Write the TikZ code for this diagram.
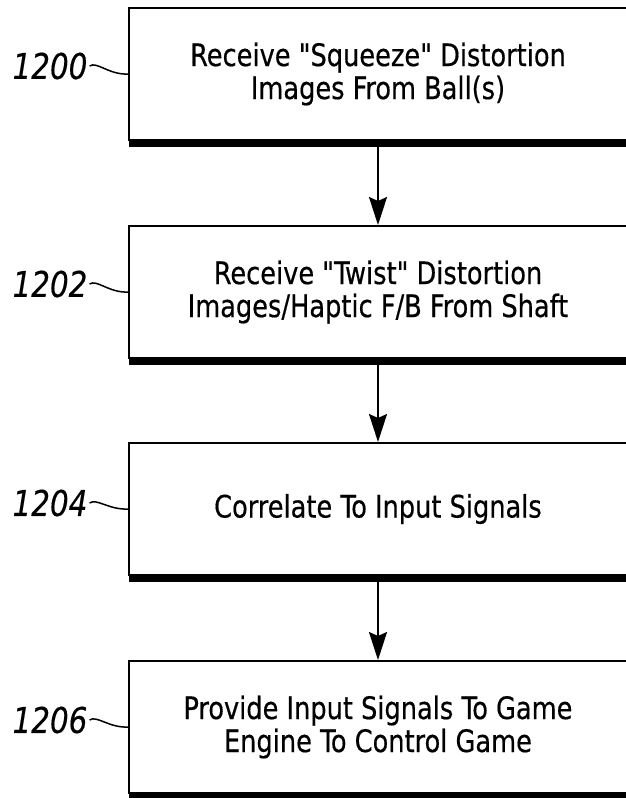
\documentclass[tikz,border=0pt]{standalone}
\usepackage{fontspec}
\setmainfont{DejaVuSansCondensed.ttf}[ItalicFont=DejaVuSansCondensed-Oblique.ttf, FakeStretch=0.92, FakeBold=0.4, Ligatures=TeXOff]
\usetikzlibrary{arrows.meta}
\begin{document}
\begin{tikzpicture}[x=1pt,y=1pt,
  stepbox/.style={draw, line width=2pt, minimum width=498pt, minimum height=132pt, inner sep=0pt, align=center, font=\fontsize{31}{33}\selectfont},
  reflabel/.style={font=\fontsize{35.5}{38}\selectfont\itshape, inner sep=2pt},
  flow/.style={line width=2pt, -{Stealth[length=28pt,width=18pt,inset=4pt]}},
  lead/.style={line width=1.5pt}]
\useasboundingbox (0,0) rectangle (625,-798);
\fill[white] (0,0) rectangle (625,-798);

\node[stepbox] (b1) at (378,-74) {Receive "Squeeze" Distortion\\Images From Ball(s)};
\node[stepbox] (b2) at (378,-292) {Receive "Twist" Distortion\\Images/Haptic F/B From Shaft};
\node[stepbox] (b3) at (378,-509) {Correlate To Input Signals};
\node[stepbox] (b4) at (378,-727) {Provide Input Signals To Game\\Engine To Control Game};

\foreach \b in {b1,b2,b3,b4}{
  \fill ([xshift=1pt]\b.south west) rectangle ([yshift=-6pt]\b.south east);
}

\draw[flow] ([yshift=-6pt]b1.south) -- (b2.north);
\draw[flow] ([yshift=-6pt]b2.south) -- (b3.north);
\draw[flow] ([yshift=-6pt]b3.south) -- (b4.north);

\node[reflabel] (l1) at (50,-66) {1200};
\node[reflabel] (l2) at (50,-284) {1202};
\node[reflabel] (l3) at (50,-503) {1204};
\node[reflabel] (l4) at (50,-720) {1206};

\draw[lead] (l1.east) .. controls +(7,5) and +(-19,-1) .. (b1.west);
\draw[lead] (l2.east) .. controls +(7,5) and +(-19,-1) .. (b2.west);
\draw[lead] (l3.east) .. controls +(7,5) and +(-19,-1) .. (b3.west);
\draw[lead] (l4.east) .. controls +(7,5) and +(-19,-1) .. (b4.west);
\end{tikzpicture}
\end{document}
